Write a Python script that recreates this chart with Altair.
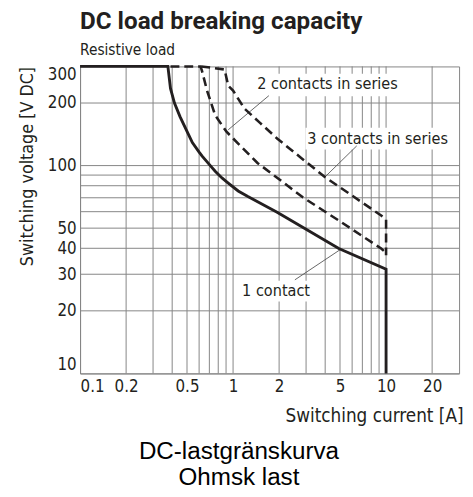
import altair as alt
import pandas as pd

# ---------------- data ----------------
current_1 = [0.1, 0.375, 0.39, 0.414, 0.45, 0.5, 0.542, 0.6, 0.628, 0.71, 0.764, 0.85, 0.93, 1.08, 1.25, 1.94, 3.0, 4.91, 10, 10]
voltage_1 = [300, 300, 235, 200, 172, 146, 129, 116, 111, 100, 94, 87, 82.4, 75.5, 71, 59.6, 49.4, 39.9, 31.7, 10]

current_2 = [0.39, 0.613, 0.627, 0.676, 0.764, 0.906, 1.076, 1.444, 2.0, 2.87, 4.91, 9.29, 10]
voltage_2 = [300, 300, 285, 229.5, 174.6, 145.5, 128, 103, 85.9, 70.2, 54.4, 39.9, 38]

current_3 = [0.62, 0.88, 0.93, 1.0, 1.187, 1.5, 1.94, 2.8, 4.04, 6.0, 9.29, 10, 10]
voltage_3 = [300, 290, 242, 229.5, 188, 160.6, 135, 108.6, 87.4, 71.7, 57.5, 55, 37]

x_labels = [0.1, 0.2, 0.5, 1, 2, 5, 10, 20]
y_labels = [10, 20, 30, 40, 50, 100, 200, 300]
x_grid = [0.2, 0.3, 0.4, 0.5, 0.6, 0.7, 0.8, 0.9, 1, 2, 3, 4, 5, 6, 7, 8, 9, 10, 20]
y_grid = [20, 30, 40, 50, 60, 70, 80, 90, 100, 200]

ann_text = ["2 contacts in series", "3 contacts in series", "1 contact"]
ann_x = [4.14, 8.8, 1.91]
ann_y = [246, 134.8, 24.9]
box_x1 = [1.42, 2.97, 1.14]
box_x2 = [11.98, 26.1, 3.19]
box_y1 = [215.6, 119.5, 22.2]
box_y2 = [277, 152, 27.9]
lead_x1 = [1.714, 6.43, 2.535]
lead_y1 = [217, 124.4, 28.2]
lead_x2 = [0.93, 4.04, 5.04]
lead_y2 = [148.7, 89, 39.5]

caption_lines = ["DC-lastgränskurva", "Ohmsk last"]

# ---------------- tables ----------------
solid = pd.DataFrame({"I": current_1, "V": voltage_1, "idx": range(len(current_1))})
dashed = pd.concat([
    pd.DataFrame({"I": current_2, "V": voltage_2, "idx": range(len(current_2)), "s": "2"}),
    pd.DataFrame({"I": current_3, "V": voltage_3, "idx": range(len(current_3)), "s": "3"}),
])
gx = pd.DataFrame({"I": x_grid})
gy = pd.DataFrame({"V": y_grid})
ann = pd.DataFrame({"t": ann_text, "I": ann_x, "V": ann_y})
boxes = pd.DataFrame({"I": box_x1, "I2": box_x2, "V": box_y1, "V2": box_y2})
leads = pd.DataFrame({"I": lead_x1, "V": lead_y1, "I2": lead_x2, "V2": lead_y2})

COND = "'DejaVu Sans Condensed', sans-serif"
TITLEF = "Roboto, 'DejaVu Sans Condensed', sans-serif"
INK = "#231f20"
GRID = "#858585"

x_scale = alt.Scale(type="log", domain=[0.1, 30], nice=False)
y_scale = alt.Scale(type="log", domain=[10, 300], nice=False)

x_axis = alt.Axis(values=x_labels, format="~g", grid=False, ticks=False,
                  labelFlush=True, labelPadding=5, labelFont=COND, labelFontSize=17,
                  labelColor=INK, domainColor=GRID,
                  title="Switching current [A]", titleFont=COND, titleFontSize=19,
                  titleFontWeight="normal", titleColor=INK,
                  titleX=388, titleY=49, titleAlign="right", titleBaseline="alphabetic")
y_axis = alt.Axis(values=y_labels, format="~g", grid=False, ticks=False,
                  labelFlush=True, labelPadding=4, labelFont=COND, labelFontSize=17,
                  labelColor=INK, domainColor=GRID,
                  title="Switching voltage [V DC]", titleFont=COND, titleFontSize=18,
                  titleFontWeight="normal", titleColor=INK,
                  titleX=-53, titleY=0, titleAngle=-90, titleAlign="right",
                  titleBaseline="middle")

X = lambda f="I": alt.X(f"{f}:Q", scale=x_scale, axis=x_axis)
Y = lambda f="V": alt.Y(f"{f}:Q", scale=y_scale, axis=y_axis)

grid_v = alt.Chart(gx).mark_rule(color=GRID, strokeWidth=1).encode(x=X())
grid_h = alt.Chart(gy).mark_rule(color=GRID, strokeWidth=1).encode(y=Y())

box_layer = alt.Chart(boxes).mark_rect(fill="white").encode(
    x=X(), x2="I2:Q", y=Y(), y2="V2:Q")

lead_layer = alt.Chart(leads).mark_rule(color="#555555", strokeWidth=0.9).encode(
    x=X(), x2="I2:Q", y=Y(), y2="V2:Q")

solid_layer = alt.Chart(solid).mark_line(color=INK, strokeWidth=2.9).encode(
    x=X(), y=Y(), order="idx:Q")

dashed_layer = alt.Chart(dashed).mark_line(color=INK, strokeWidth=2.6, strokeDash=[9, 5]).encode(
    x=X(), y=Y(), detail="s:N", order="idx:Q")

text_layer = alt.Chart(ann).mark_text(font=COND, fontSize=16.3, color=INK,
                                      align="center", baseline="middle").encode(
    x=X(), y=Y(), text="t:N")

caption_layers = []
cap_y = [397.5, 424]
for line, yy in zip(caption_lines, cap_y):
    caption_layers.append(
        alt.Chart(pd.DataFrame({"t": [line]})).mark_text(
            font="'Liberation Sans', Arial, sans-serif", fontSize=24.5, color="black",
            align="center", baseline="alphabetic").encode(
            x=alt.value(161), y=alt.value(yy), text="t:N")
    )

chart = alt.layer(
    grid_v, grid_h, box_layer, lead_layer, solid_layer, dashed_layer, text_layer,
    *caption_layers
).properties(
    width=384, height=311,
    padding={"left": 73, "top": 56, "right": 6, "bottom": 120},
    autosize="none",
    title=alt.TitleParams(
        text="DC load breaking capacity", subtitle="Resistive load",
        anchor="start", frame="group", font=TITLEF, fontSize=24.5, fontWeight="bold",
        color=INK, subtitleFont=COND, subtitleFontSize=15.5, subtitleColor=INK,
        subtitlePadding=9, offset=1),
).configure_view(stroke=GRID, strokeWidth=1)

chart.save("out.html", embed_options={"renderer": "svg", "actions": False})
